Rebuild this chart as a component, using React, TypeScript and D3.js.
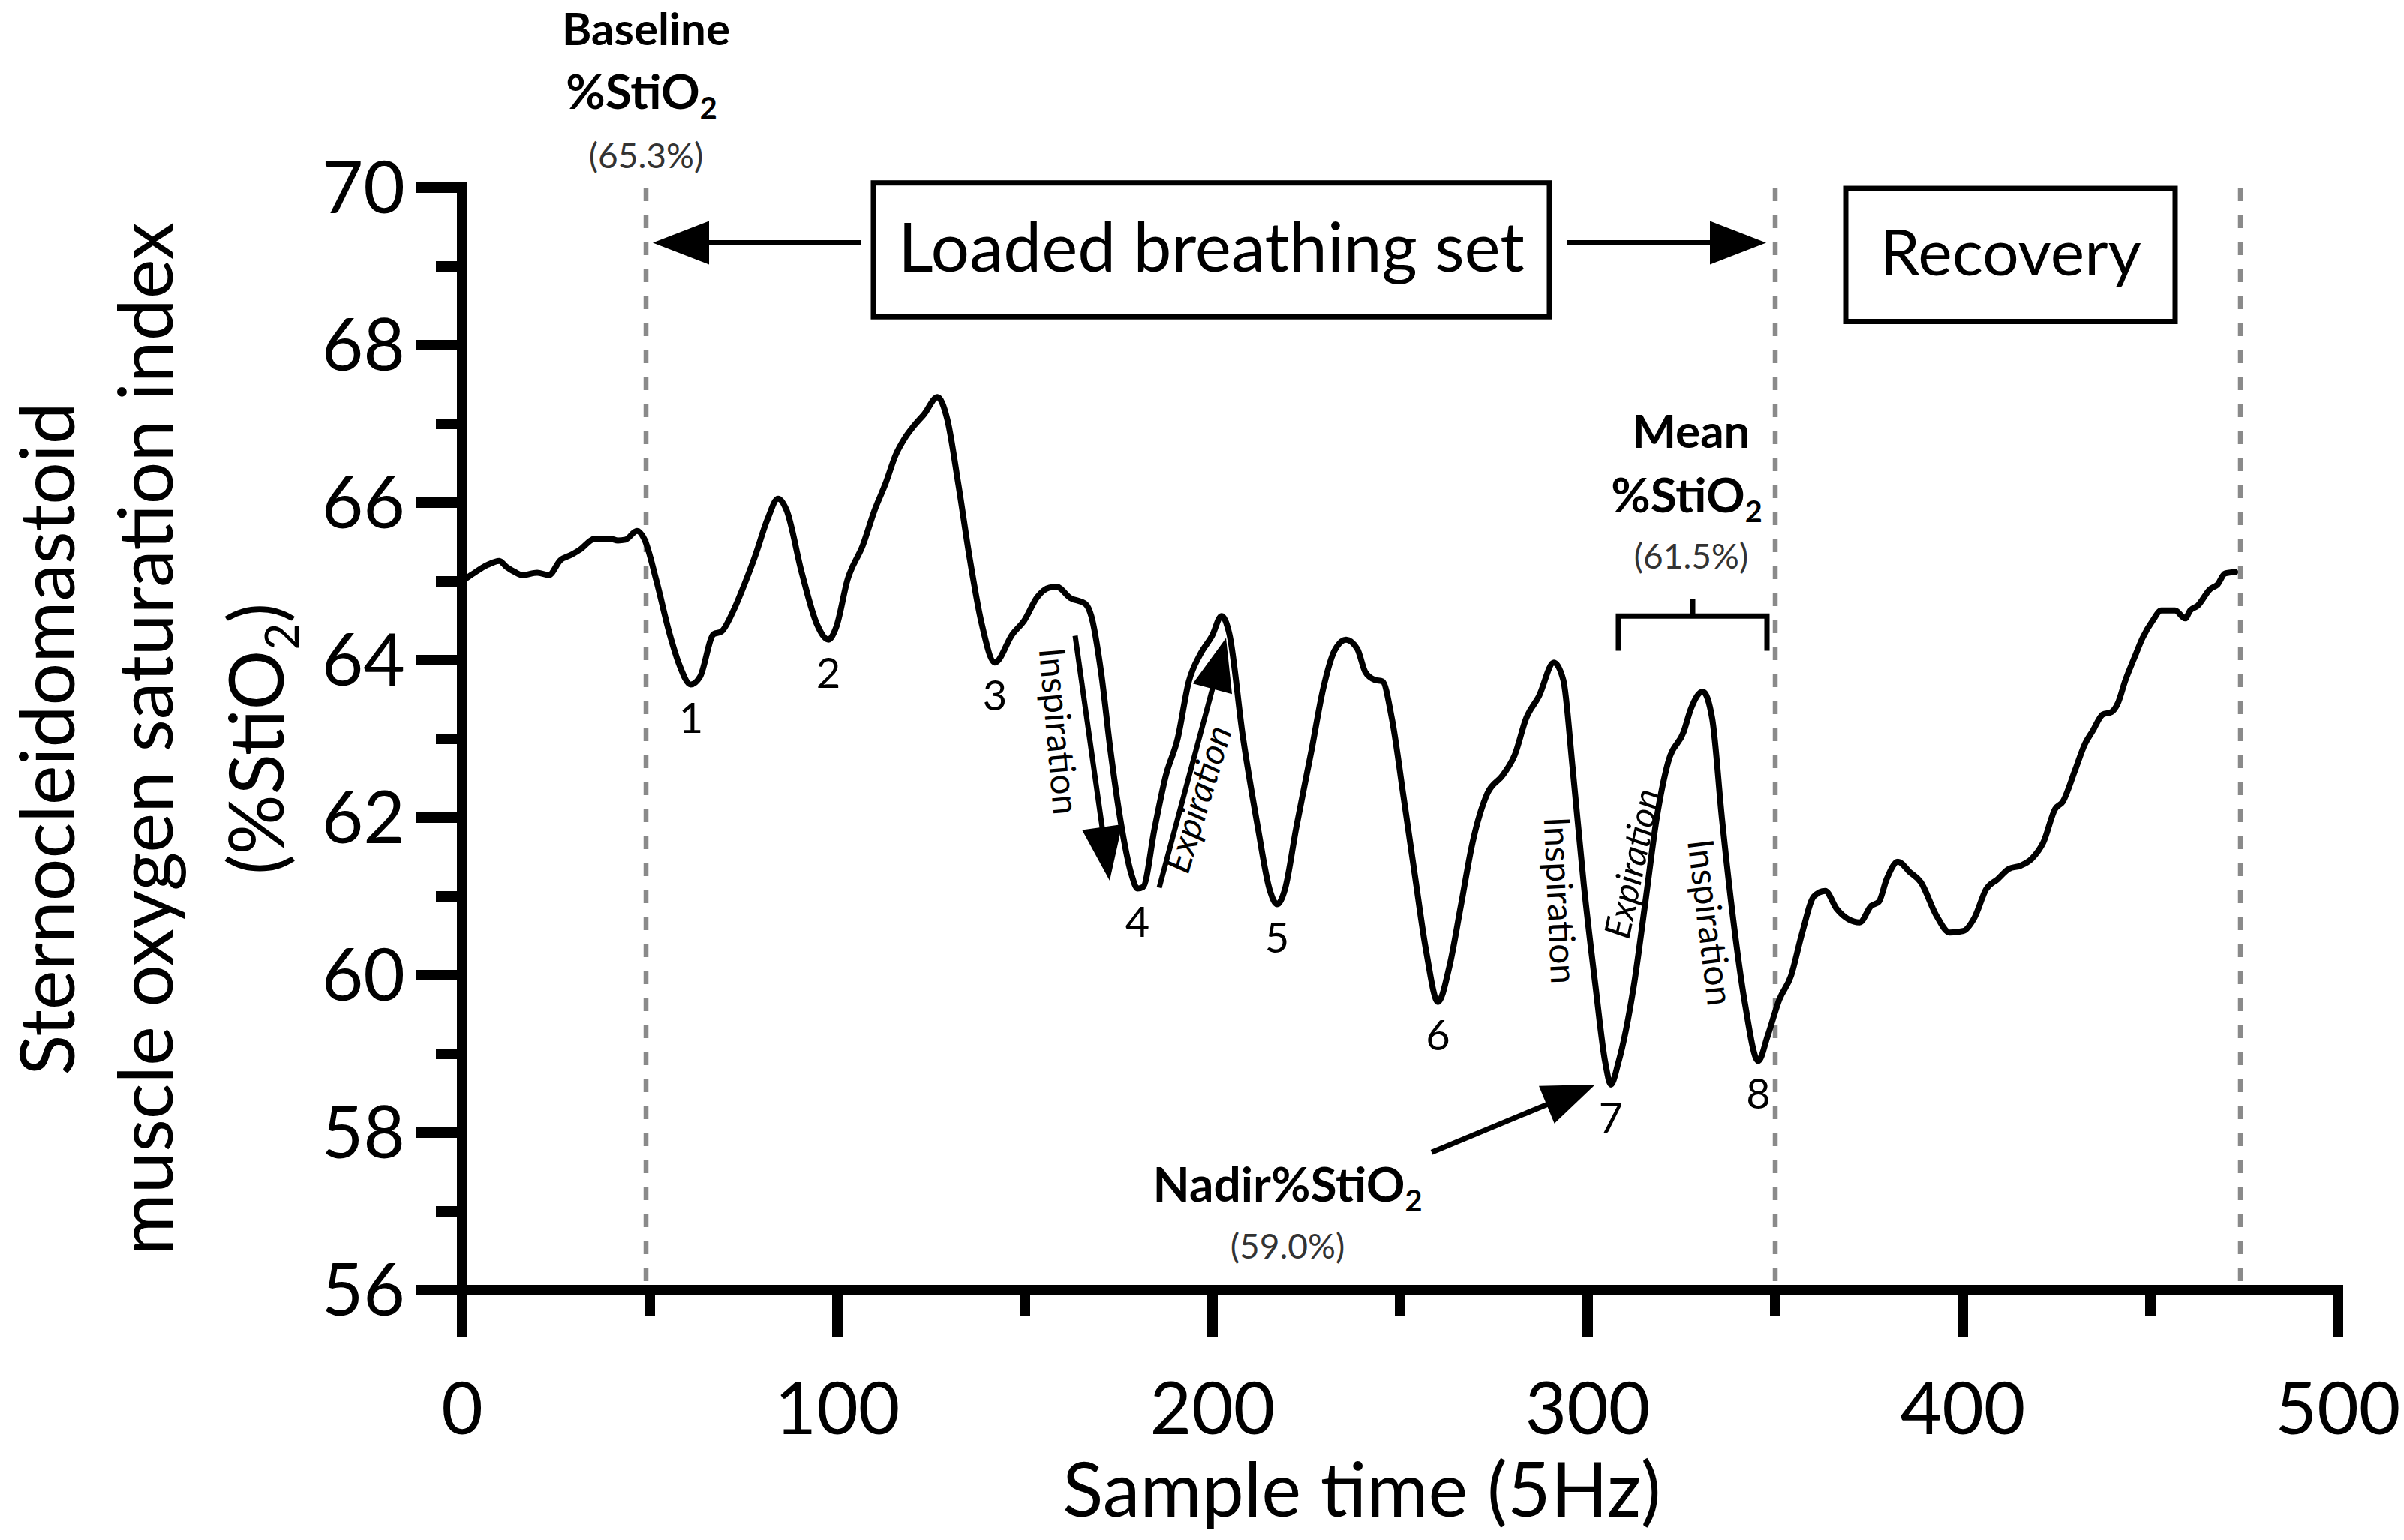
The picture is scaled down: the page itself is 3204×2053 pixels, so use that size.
import React, { useEffect } from 'react';
import * as d3 from 'd3';

// ---------- data ----------
const sampleTimes: number[] = [
  0, 3, 6.8, 9.9, 11.9, 14, 16, 20, 23.1, 26.2, 29.2, 31.3, 35.4, 39.5, 41.5, 43.5, 46.6, 48.6,
  51.7, 55.3, 57.8, 60.9, 63.4, 67, 69, 72.1, 75.2, 78.2, 81.3, 84.2, 86.4, 90.5, 94.6, 97.6,
  99.7, 102.7, 106.8, 109.9, 112.9, 115.5, 118, 120.5, 123.1, 126.7, 129.3, 132.3, 135.4, 138.4,
  142, 146.7, 149.8, 153.3, 156.5, 158.5, 162.1, 166.2, 167.7, 170.3, 172.8, 175.4, 178.4, 180,
  181.5, 184.6, 187.6, 190.7, 193.7, 196.8, 199.9, 202.4, 204.5, 208, 212.1, 215.2, 217.2, 219.3,
  222.3, 226.4, 229.5, 232.5, 235.6, 238.6, 240.7, 243.2, 245.3, 247.8, 250.9, 253.9, 257, 260.1,
  263.1, 266.2, 269.3, 273.3, 277.4, 280.6, 283.6, 287, 291, 293.5, 296, 299, 302.1, 304.7, 306.2,
  308.2, 312.3, 315.4, 318.4, 321.5, 325.6, 327.6, 330.7, 333.2, 335.8, 338.8, 341.9, 345.5, 348,
  351.1, 354.2, 357.2, 360.3, 363.3, 366.4, 369.5, 372.5, 375.6, 377.6, 379.7, 382.7, 385.8, 388.8,
  392.9, 396.5, 400.1, 403.1, 406.2, 409.3, 412.3, 415.4, 418.4, 421.5, 424.6, 426.6, 429.9, 432.6,
  434.6, 437.3, 439.6, 441.3, 443.3, 445.9, 447.9, 450.6, 452.9, 456.6, 459.3, 460.6, 462.6, 465.9,
  467.9, 469.9, 472.6,
];
const stio2Values: number[] = [
  65.0, 65.1, 65.21, 65.26, 65.18, 65.12, 65.08, 65.11, 65.08, 65.27, 65.34, 65.4, 65.54, 65.54, 65.52, 65.53, 65.64, 65.53,
  65.02, 64.33, 63.95, 63.69, 63.79, 64.33, 64.36, 64.61, 64.96, 65.34, 65.78, 66.05, 65.91, 65.11, 64.45, 64.26,
  64.42, 65.02, 65.46, 65.9, 66.25, 66.6, 66.82, 66.98, 67.12, 67.34, 67.06, 66.22, 65.26, 64.48,
  63.97, 64.33, 64.5, 64.8, 64.92, 64.93, 64.79, 64.71, 64.56, 63.85, 62.86, 61.99, 61.28, 61.1,
  61.12, 61.87, 62.54, 63.0, 63.73, 64.08, 64.31, 64.56, 64.33, 63.06, 61.87, 61.09, 60.9, 61.09,
  61.87, 62.86, 63.64, 64.12, 64.26, 64.14, 63.85, 63.75, 63.73, 63.26, 62.27, 61.28, 60.29, 59.66,
  60.1, 60.88, 61.68, 62.31, 62.54, 62.8, 63.26, 63.54, 63.97, 63.75, 62.63, 61.14, 59.86, 58.89, 58.61,
  58.89, 59.86, 60.93, 61.99, 62.71, 63.09, 63.39, 63.6, 63.26, 61.99, 60.71, 59.65, 58.91, 59.23,
  59.69, 59.99, 60.54, 61.0, 61.07, 60.84, 60.71, 60.67, 60.88, 60.93, 61.22, 61.44, 61.31, 61.18,
  60.76, 60.54, 60.56, 60.73, 61.09, 61.22, 61.35, 61.39, 61.48, 61.69, 62.11, 62.2, 62.6, 62.94,
  63.1, 63.31, 63.34, 63.45, 63.74, 64.05, 64.28, 64.5, 64.63, 64.63, 64.53, 64.63, 64.69, 64.9,
  64.96, 65.1, 65.12,
];

const xTicks = [0, 100, 200, 300, 400, 500];
const xMinorTicks = [50, 150, 250, 350, 450];
const yTicks = [56, 58, 60, 62, 64, 66, 68, 70];
const yMinorTicks = [57, 59, 61, 63, 65, 67, 69];

const phaseBoundaries = [49, 350, 474];

const troughSamples = [61, 97.6, 142, 180, 217.2, 260.1, 306.2, 345.5];
const troughValues = [63.69, 64.26, 63.97, 61.1, 60.9, 59.66, 58.61, 58.91];
const troughLabels = ['1', '2', '3', '4', '5', '6', '7', '8'];

const baselineText = '(65.3%)';
const meanText = '(61.5%)';
const nadirText = '(59.0%)';

const yTitleLines = ['Sternocleidomastoid', 'muscle oxygen saturation index'];
const xTitle = 'Sample time (5Hz)';

// ---------- layout ----------
const W = 3204;
const H = 2053;
const FONT = "Lato, 'Open Sans', 'DejaVu Sans', sans-serif";
const AXIS_W = 14;

const x = d3.scaleLinear().domain([0, 500]).range([616, 3116]);
const y = d3.scaleLinear().domain([56, 70]).range([1720, 250]);

function arrow(x1: number, y1: number, x2: number, y2: number, hl: number, hw: number) {
  const dx = x2 - x1;
  const dy = y2 - y1;
  const L = Math.hypot(dx, dy);
  const ux = dx / L;
  const uy = dy / L;
  const bx = x2 - ux * hl;
  const by = y2 - uy * hl;
  const px = -uy;
  const py = ux;
  return {
    line: { x1, y1, x2: bx + ux * 2, y2: by + uy * 2 },
    head: `${x2},${y2} ${bx + px * hw},${by + py * hw} ${bx - px * hw},${by - py * hw}`,
  };
}

function Arrow({ s1, v1, s2, v2, hl = 72, hw = 28 }: { s1: number; v1: number; s2: number; v2: number; hl?: number; hw?: number }) {
  const a = arrow(x(s1), y(v1), x(s2), y(v2), hl, hw);
  return (
    <g>
      <line {...a.line} stroke="#000" strokeWidth={7} />
      <polygon points={a.head} fill="#000" />
    </g>
  );
}

function StiO2({ size }: { size: number }) {
  return (
    <>
      %StiO
      <tspan fontSize={size * 0.62} dy={size * 0.2}>2</tspan>
    </>
  );
}

function Rotated({ s, v, angle, text, italic = false }: { s: number; v: number; angle: number; text: string; italic?: boolean }) {
  return (
    <text
      transform={`translate(${x(s)},${y(v)}) rotate(${angle})`}
      textAnchor="middle"
      dominantBaseline="central"
      fontSize={48}
      fontStyle={italic ? 'italic' : 'normal'}
      fontFamily={FONT}
      fill="#000"
    >
      {text}
    </text>
  );
}

export default function App() {
  useEffect(() => {
    document.body.style.margin = '0';
    document.body.style.overflow = 'hidden';
  }, []);

  const line = d3
    .line<number>()
    .x((_, i) => x(sampleTimes[i]))
    .y((d) => y(d))
    .curve(d3.curveMonotoneX);
  const pathD = line(stio2Values) || '';

  const yTop = y(70);
  const yBot = y(56);
  const x0 = x(0);

  const meanCx = x(327.6);
  const baseCx = x(49);
  const nadirCx = x(220);

  return (
    <svg
      width={W}
      height={H}
      viewBox={`0 0 ${W} ${H}`}
      style={{ position: 'absolute', left: 0, top: 0, display: 'block', background: '#fff' }}
      fontFamily={FONT}
    >
      <rect x={0} y={0} width={W} height={H} fill="#fff" />

      {/* phase boundary dashed lines */}
      {phaseBoundaries.map((s) => (
        <line
          key={s}
          x1={x(s)}
          x2={x(s)}
          y1={yTop}
          y2={yBot - AXIS_W / 2}
          stroke="#8a8a8a"
          strokeWidth={6.5}
          strokeDasharray="18 18"
        />
      ))}

      {/* curve */}
      <path d={pathD} fill="none" stroke="#000" strokeWidth={8} strokeLinejoin="round" strokeLinecap="round" />

      {/* y axis */}
      <line x1={x0} x2={x0} y1={yTop - AXIS_W / 2} y2={yBot} stroke="#000" strokeWidth={AXIS_W} />
      {yTicks.map((t) => (
        <g key={t}>
          <line x1={x0 - 62} x2={x0} y1={y(t)} y2={y(t)} stroke="#000" strokeWidth={AXIS_W} />
          <text x={x0 - 76} y={y(t) + 34} textAnchor="end" fontSize={96} fill="#000">
            {t}
          </text>
        </g>
      ))}
      {yMinorTicks.map((t) => (
        <line key={t} x1={x0 - 35} x2={x0} y1={y(t)} y2={y(t)} stroke="#000" strokeWidth={AXIS_W} />
      ))}

      {/* x axis */}
      <line x1={x0 - 62} x2={x(500) + AXIS_W / 2} y1={yBot} y2={yBot} stroke="#000" strokeWidth={AXIS_W} />
      {xTicks.map((t) => (
        <g key={t}>
          <line x1={x(t)} x2={x(t)} y1={yBot} y2={yBot + 63} stroke="#000" strokeWidth={AXIS_W} />
          <text x={x(t)} y={1912} textAnchor="middle" fontSize={96} fill="#000">
            {t}
          </text>
        </g>
      ))}
      {xMinorTicks.map((t) => (
        <line key={t} x1={x(t)} x2={x(t)} y1={yBot} y2={yBot + 35} stroke="#000" strokeWidth={AXIS_W} />
      ))}

      {/* axis titles */}
      <text x={1815} y={2022} textAnchor="middle" fontSize={100} fill="#000">
        {xTitle}
      </text>
      {yTitleLines.map((t, i) => (
        <text
          key={t}
          transform={`translate(${[99, 230][i]},985) rotate(-90)`}
          textAnchor="middle"
          fontSize={100}
          fill="#000"
        >
          {t}
        </text>
      ))}
      <text transform="translate(378,985) rotate(-90)" textAnchor="middle" fontSize={100} fill="#000">
        (<StiO2 size={100} />
        <tspan dy={-100 * 0.2}>)</tspan>
      </text>

      {/* trough labels */}
      {troughLabels.map((l, i) => (
        <text key={l} x={x(troughSamples[i])} y={y(troughValues[i]) + 64} textAnchor="middle" fontSize={56} fill="#000">
          {l}
        </text>
      ))}

      {/* Baseline label */}
      <text x={baseCx} y={60} textAnchor="middle" fontSize={60} fontWeight={700} fill="#000">
        Baseline
      </text>
      <text x={baseCx - 6} y={145} textAnchor="middle" fontSize={64} fontWeight={700} fill="#000">
        <StiO2 size={64} />
      </text>
      <text x={baseCx} y={224} textAnchor="middle" fontSize={46} fill="#333">
        {baselineText}
      </text>

      {/* Loaded breathing set */}
      <rect x={x(109.6)} y={y(70.06)} width={x(289.8) - x(109.6)} height={y(68.36) - y(70.06)} fill="#fff" stroke="#000" strokeWidth={7} />
      <text x={(x(109.6) + x(289.8)) / 2} y={362} textAnchor="middle" fontSize={91} fill="#000">
        Loaded breathing set
      </text>
      <Arrow s1={106.2} v1={69.3} s2={50.8} v2={69.3} hl={75} hw={29} />
      <Arrow s1={294.4} v1={69.3} s2={347.6} v2={69.3} hl={75} hw={29} />

      {/* Recovery */}
      <rect x={x(368.8)} y={y(69.99)} width={x(456.6) - x(368.8)} height={y(68.3) - y(69.99)} fill="#fff" stroke="#000" strokeWidth={7} />
      <text x={(x(368.8) + x(456.6)) / 2} y={367} textAnchor="middle" fontSize={86} fill="#000">
        Recovery
      </text>

      {/* Mean label + bracket */}
      <text x={meanCx} y={597} textAnchor="middle" fontSize={62} fontWeight={700} fill="#000">
        Mean
      </text>
      <text x={meanCx - 6} y={683} textAnchor="middle" fontSize={64} fontWeight={700} fill="#000">
        <StiO2 size={64} />
      </text>
      <text x={meanCx} y={758} textAnchor="middle" fontSize={46} fill="#333">
        {meanText}
      </text>
      <path
        d={`M${x(308.2)},${y(64.12)} L${x(308.2)},${y(64.56)} L${x(347.8)},${y(64.56)} L${x(347.8)},${y(64.12)} M${x(328)},${y(64.56)} L${x(328)},${y(64.78)}`}
        fill="none"
        stroke="#000"
        strokeWidth={7}
      />

      {/* Nadir label */}
      <text x={nadirCx} y={1602} textAnchor="middle" fontSize={64} fontWeight={700} fill="#000">
        Nadir<StiO2 size={64} />
      </text>
      <text x={nadirCx} y={1678} textAnchor="middle" fontSize={46} fill="#333">
        {nadirText}
      </text>
      <Arrow s1={258.4} v1={57.75} s2={302} v2={58.61} hl={70} hw={27} />

      {/* Inspiration / Expiration arrows + labels */}
      <Arrow s1={163.4} v1={64.31} s2={172.6} v2={61.2} hl={72} hw={27} />
      <Arrow s1={185.8} v1={61.11} s2={203.6} v2={64.28} hl={70} hw={27} />
      <Rotated s={159.4} v={63.1} angle={85} text="Inspiration" />
      <Rotated s={195.8} v={62.24} angle={-73} text="Expiration" italic />
      <Rotated s={293} v={60.95} angle={87.5} text="Inspiration" />
      <Rotated s={311.6} v={61.42} angle={-78} text="Expiration" italic />
      <Rotated s={333} v={60.67} angle={83} text="Inspiration" />
    </svg>
  );
}
